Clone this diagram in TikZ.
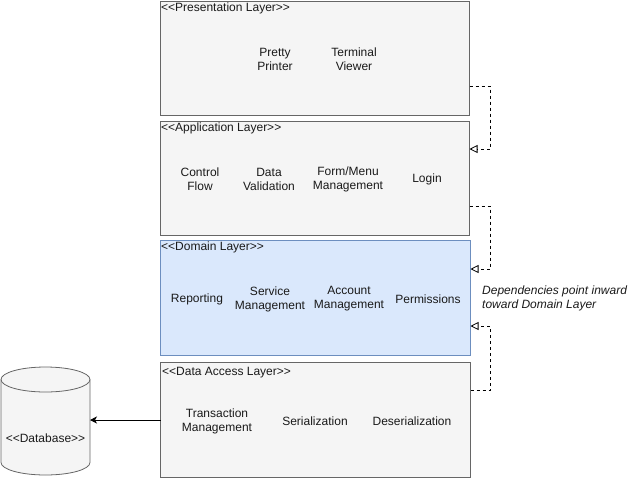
\documentclass[tikz,border=0pt]{standalone}
\usepackage{fontspec}
\setmainfont{Liberation Sans}
\usetikzlibrary{arrows.meta}
\definecolor{grayfill}{HTML}{F5F5F5}
\definecolor{graystroke}{HTML}{666666}
\definecolor{bluefill}{HTML}{DAE8FC}
\definecolor{bluestroke}{HTML}{6C8EBF}
\definecolor{txt}{HTML}{1A1A1A}
\begin{document}
\begin{tikzpicture}[x=1pt,y=-1pt,
  layer/.style={draw=graystroke,fill=grayfill,line width=0.8pt,inner sep=0pt,outer sep=0pt},
  domainbox/.style={draw=bluestroke,fill=bluefill,line width=0.8pt,inner sep=0pt,outer sep=0pt},
  lbl/.style={font=\fontsize{12}{14}\selectfont,text=txt,align=center,inner sep=0pt},
  ttl/.style={font=\fontsize{12}{14}\selectfont,text=txt,anchor=west,inner sep=0pt},
  dep/.style={draw=black,dashed,line width=0.8pt,-{Triangle[open,length=8pt,width=8pt]}},
  use/.style={draw=black,line width=0.8pt,-{Stealth[length=7pt,width=7pt,inset=2pt]}},
  cyl/.style={draw=graystroke,fill=grayfill,line width=0.8pt}]
\useasboundingbox (0,0) rectangle (631,479);

% layers
\node[layer,minimum width=309pt,minimum height=114pt,anchor=north west] (pres) at (160.5,1) {};
\node[layer,minimum width=309pt,minimum height=114pt,anchor=north west] (app) at (160.5,121) {};
\node[domainbox,minimum width=310pt,minimum height=115pt,anchor=north west] (dom) at (160.5,240.5) {};
\node[layer,minimum width=310pt,minimum height=115pt,anchor=north west] (data) at (160.5,362.5) {};

\node[ttl] (tpres) at (161,8.5) {<{}<Presentation Layer>{}>};
\node[ttl] (tapp) at (161,128.5) {<{}<Application Layer>{}>};
\node[ttl] (tdom) at (161,247.5) {<{}<Domain Layer>{}>};
\node[ttl] (tdata) at (162,373) {<{}<Data Access Layer>{}>};

% presentation contents
\node[lbl] (pp) at (275,59) {Pretty\\Printer};
\node[lbl] (tv) at (354,59) {Terminal\\Viewer};
% application contents
\node[lbl] (cf) at (200,179) {Control\\Flow};
\node[lbl] (dv) at (269,179) {Data\\Validation};
\node[lbl] (fm) at (348,179) {Form/Menu\\Management};
\node[lbl] (lg) at (427,179) {Login};
% domain contents
\node[lbl] (rp) at (197,299) {Reporting};
\node[lbl] (sm) at (270,299) {Service\\Management};
\node[lbl] (am) at (349,299) {Account\\Management};
\node[lbl] (pm) at (428,299) {Permissions};
% data access contents
\node[lbl] (tm) at (217,421) {Transaction\\Management};
\node[lbl] (se) at (315,421) {Serialization};
\node[lbl] (de) at (412,421) {Deserialization};

% database (cylinder)
\draw[cyl] (1,379.5) -- (1,462.5)
  arc[start angle=180,end angle=0,x radius=44.5,y radius=12.5]
  -- (90,379.5)
  arc[start angle=0,end angle=-180,x radius=44.5,y radius=12.5] -- cycle;
\draw[cyl,fill=none] (1,379.5) arc[start angle=180,end angle=0,x radius=44.5,y radius=12.5];
\node[minimum width=89pt,minimum height=108pt,inner sep=0pt,outer sep=0pt] (db) at (45.5,421) {};
\node[lbl] (dbl) at (45.5,438) {<{}<Database>{}>};

% annotation
\node[font=\fontsize{12}{14}\selectfont\itshape,text=txt,align=left,anchor=north west,inner sep=0pt] (note) at (482,286) {Dependencies point inward\\toward Domain Layer};

% dependency connectors
\draw[dep] (pres.east |- 0,86) -- (490,86) |- (app.east |- 0,149);
\draw[dep] (app.east |- 0,206) -- (490,206) |- (dom.east |- 0,269);
\draw[dep] (data.east |- 0,390) -- (490,390) |- (dom.east |- 0,326);

% data access to database
\draw[use] (data.west |- 0,420) -- (db.east |- 0,420);
\end{tikzpicture}
\end{document}
